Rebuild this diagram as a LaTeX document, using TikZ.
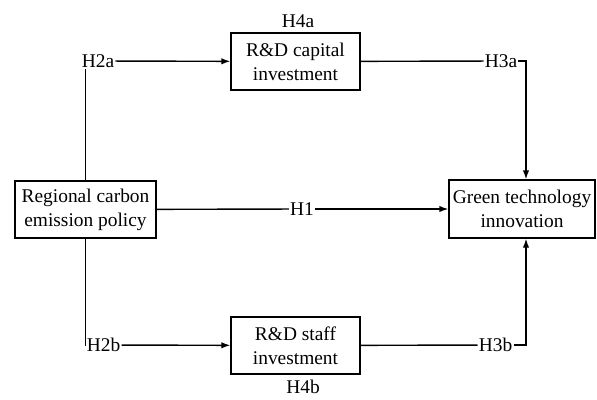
\documentclass[tikz,border=0pt]{standalone}
\usepackage{fontspec}
\setmainfont{Liberation Serif}
\usetikzlibrary{arrows.meta}

\begin{document}
\begin{tikzpicture}[x=1pt, y=-1pt, line width=1.4pt,
	every node/.style={font=\fontsize{19.4}{24}\selectfont},
	box/.style={draw, align=center, inner sep=0pt, minimum height=57pt},
	hyp/.style={inner sep=0.6pt},
	arr/.style={-{Latex[length=9pt, width=6.5pt]}}]
	\useasboundingbox (0,0) rectangle (597,399);
	% boxes
	\node[box, minimum width=141pt] (policy) at (85.5,209.5) {Regional carbon\\emission policy};
	\node[box, minimum width=129pt] (capital) at (295.5,61.5) {R\&D capital\\investment};
	\node[box, minimum width=129pt] (staff) at (295.5,345.5) {R\&D staff\\investment};
	\node[box, minimum width=146pt, minimum height=58pt] (green) at (522,209) {Green technology\\innovation};
	% hypothesis labels
	\node[hyp] (h2a) at (98,61) {H2a};
	\node[hyp] (h4a) at (298,21) {H4a};
	\node[hyp] (h3a) at (501,61) {H3a};
	\node[hyp] (h1) at (302,209) {H1};
	\node[hyp] (h2b) at (103.5,345) {H2b};
	\node[hyp] (h4b) at (303,387) {H4b};
	\node[hyp] (h3b) at (495.5,345) {H3b};
	% paths
	\draw (policy.north) -- (policy.north |- h2a.south);
	\draw[arr] (h2a) -- (capital);
	\draw (capital) -- (h3a);
	\draw[arr] (h3a.east) -| ([xshift=4pt]green.north);
	\draw (policy) -- (h1);
	\draw[arr] (h1) -- (green);
	\draw (policy.south) |- (h2b.west);
	\draw[arr] (h2b) -- (staff);
	\draw (staff) -- (h3b);
	\draw[arr] (h3b.east) -| ([xshift=4pt]green.south);
\end{tikzpicture}
\end{document}
